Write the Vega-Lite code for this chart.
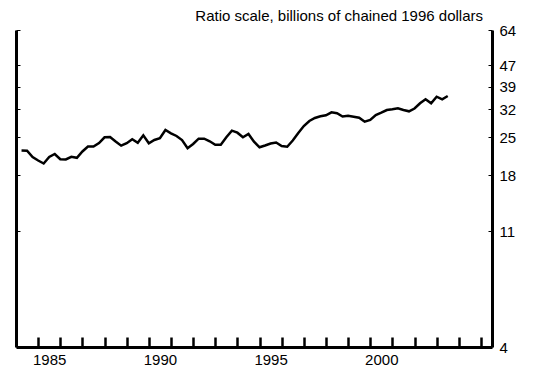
{
  "$schema": "https://vega.github.io/schema/vega-lite/v6.json",
  "width": 476,
  "height": 317,
  "autosize": {"type": "none"},
  "padding": {"left": 16, "top": 30, "right": 41, "bottom": 27},
  "background": "white",
  "config": {
    "view": {"stroke": null},
    "font": "Liberation Sans",
    "axis": {"grid": false, "domainColor": "black", "tickColor": "black", "labelColor": "black", "labelFont": "Liberation Sans", "labelFontSize": 15, "titleFontSize": 15}
  },
  "title": {
    "text": "Ratio scale, billions of chained 1996 dollars",
    "anchor": "end",
    "frame": "group",
    "font": "Liberation Sans",
    "fontSize": 15,
    "fontWeight": "normal",
    "color": "black",
    "baseline": "alphabetic",
    "offset": -13,
    "dx": -9
  },
  "data": {"values": [
    {"t": 1984.25, "v": 22.31}, {"t": 1984.5, "v": 22.27}, {"t": 1984.75, "v": 21.08}, {"t": 1985.0, "v": 20.44},
    {"t": 1985.25, "v": 19.91}, {"t": 1985.5, "v": 21.08}, {"t": 1985.75, "v": 21.64}, {"t": 1986.0, "v": 20.66},
    {"t": 1986.25, "v": 20.62}, {"t": 1986.5, "v": 21.11}, {"t": 1986.75, "v": 20.93}, {"t": 1987.0, "v": 22.12},
    {"t": 1987.25, "v": 23.10}, {"t": 1987.5, "v": 23.10}, {"t": 1987.75, "v": 23.82}, {"t": 1988.0, "v": 25.04},
    {"t": 1988.25, "v": 25.11}, {"t": 1988.5, "v": 24.14}, {"t": 1988.75, "v": 23.27}, {"t": 1989.0, "v": 23.78},
    {"t": 1989.25, "v": 24.61}, {"t": 1989.5, "v": 23.88}, {"t": 1989.75, "v": 25.48}, {"t": 1990.0, "v": 23.76},
    {"t": 1990.25, "v": 24.45}, {"t": 1990.5, "v": 24.82}, {"t": 1990.75, "v": 26.69}, {"t": 1991.0, "v": 25.93},
    {"t": 1991.25, "v": 25.33}, {"t": 1991.5, "v": 24.45}, {"t": 1991.75, "v": 22.74}, {"t": 1992.0, "v": 23.62},
    {"t": 1992.25, "v": 24.74}, {"t": 1992.5, "v": 24.74}, {"t": 1992.75, "v": 24.18}, {"t": 1993.0, "v": 23.47},
    {"t": 1993.25, "v": 23.47}, {"t": 1993.5, "v": 25.04}, {"t": 1993.75, "v": 26.53}, {"t": 1994.0, "v": 26.07},
    {"t": 1994.25, "v": 25.04}, {"t": 1994.5, "v": 25.77}, {"t": 1994.75, "v": 24.10}, {"t": 1995.0, "v": 22.94},
    {"t": 1995.25, "v": 23.30}, {"t": 1995.5, "v": 23.72}, {"t": 1995.75, "v": 23.93}, {"t": 1996.0, "v": 23.21},
    {"t": 1996.25, "v": 23.06}, {"t": 1996.5, "v": 24.35}, {"t": 1996.75, "v": 26.00}, {"t": 1997.0, "v": 27.64},
    {"t": 1997.25, "v": 28.88}, {"t": 1997.5, "v": 29.65}, {"t": 1997.75, "v": 30.09}, {"t": 1998.0, "v": 30.35},
    {"t": 1998.25, "v": 31.16}, {"t": 1998.5, "v": 30.89}, {"t": 1998.75, "v": 30.04}, {"t": 1999.0, "v": 30.25},
    {"t": 1999.25, "v": 29.98}, {"t": 1999.5, "v": 29.72}, {"t": 1999.75, "v": 28.70}, {"t": 2000.0, "v": 29.13},
    {"t": 2000.25, "v": 30.43}, {"t": 2000.5, "v": 31.05}, {"t": 2000.75, "v": 31.79}, {"t": 2001.0, "v": 31.99},
    {"t": 2001.25, "v": 32.27}, {"t": 2001.5, "v": 31.79}, {"t": 2001.75, "v": 31.43}, {"t": 2002.0, "v": 32.21},
    {"t": 2002.25, "v": 33.71}, {"t": 2002.5, "v": 34.91}, {"t": 2002.75, "v": 33.71}, {"t": 2003.0, "v": 35.71},
    {"t": 2003.25, "v": 34.91}, {"t": 2003.5, "v": 35.93}
  ]},
  "encoding": {
    "x": {
      "field": "t", "type": "quantitative",
      "scale": {"domain": [1984, 2005.5], "nice": false, "zero": false},
      "axis": {
        "title": null,
        "values": [1985, 1985.5, 1986, 1987, 1988, 1989, 1990, 1990.5, 1991, 1992, 1993, 1994, 1995, 1995.5, 1996, 1997, 1998, 1999, 2000, 2000.5, 2001, 2002, 2003, 2004, 2005],
        "labelExpr": "datum.value % 1 == 0.5 ? format(floor(datum.value), 'd') : ''",
        "tickOpacity": {"condition": {"test": "datum.value % 1 == 0", "value": 1}, "value": 0},
        "tickSize": -10,
        "tickWidth": 2.5,
        "domainWidth": 3,
        "labelPadding": 15,
        "labelOverlap": false,
        "labelFlush": false,
        "labelBound": false
      }
    }
  },
  "layer": [
    {
      "mark": {"type": "line", "color": "black", "strokeWidth": 2.5},
      "encoding": {
        "y": {
          "field": "v", "type": "quantitative",
          "scale": {"type": "log", "domain": [4, 64], "nice": false, "zero": false},
          "axis": {"orient": "left", "title": null, "labels": false, "values": [4, 11, 18, 25, 32, 39, 47, 64], "tickSize": -4, "tickWidth": 1, "domainWidth": 3}
        }
      }
    },
    {
      "mark": {"type": "line", "opacity": 0},
      "encoding": {
        "y": {
          "field": "v", "type": "quantitative",
          "scale": {"type": "log", "domain": [4, 64], "nice": false, "zero": false},
          "axis": {"orient": "right", "title": null, "values": [4, 11, 18, 25, 32, 39, 47, 64], "tickSize": -4, "tickWidth": 1, "domainWidth": 3, "labelPadding": 11, "labelFlush": false, "labelBound": false, "labelOverlap": false}
        }
      }
    }
  ],
  "resolve": {"scale": {"y": "shared"}, "axis": {"y": "independent"}}
}
